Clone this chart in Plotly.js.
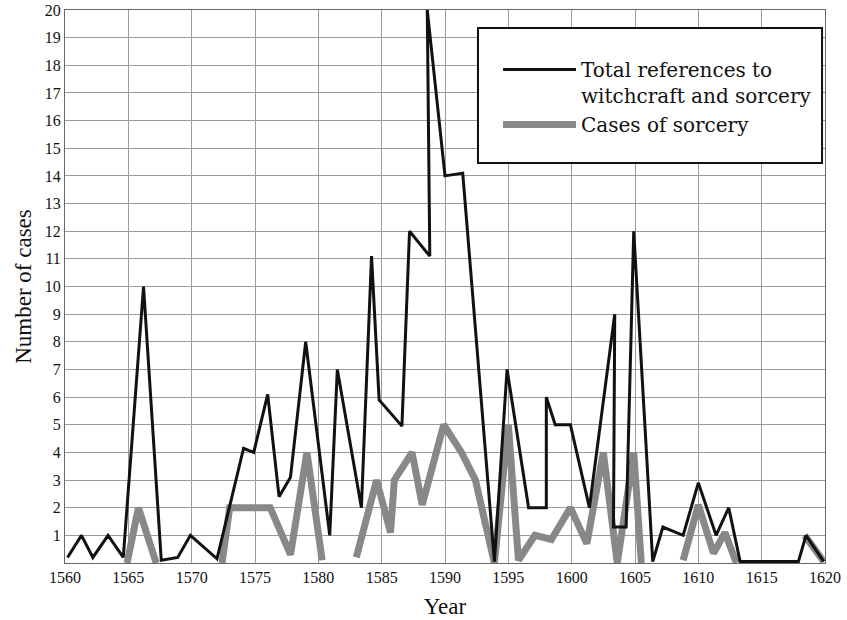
<!DOCTYPE html>
<html>
<head>
<meta charset="utf-8">
<script src="https://cdn.plot.ly/plotly-3.0.1.min.js"></script>
<style>
html,body{margin:0;padding:0;background:#fff;}
#chart{width:847px;height:620px;}
</style>
</head>
<body>
<div id="chart"></div>
<script>
// Total references to witchcraft and sorcery (black line)
const totalYears = [1560.2,1561.3,1562.2,1563.4,1564.6,1566.2,1567.6,1568.9,1569.9,1572.0,1574.1,1574.9,1576.0,1576.9,1577.8,1579.0,1580.9,1581.5,1583.4,1584.2,1584.8,1586.6,1587.2,1588.8,1588.6,1590.0,1591.4,1593.9,1594.9,1596.6,1598.0,1598.0,1598.7,1599.9,1601.4,1603.4,1603.3,1604.3,1604.9,1606.4,1607.2,1608.8,1610.0,1611.4,1612.4,1613.3,1617.9,1618.5,1619.9];
const totalCases = [0.2,1,0.2,1,0.2,10,0.1,0.2,1,0.15,4.15,4,6.1,2.4,3.1,8,1,7,2,11.1,5.9,4.95,12,11.1,20,14,14.1,0.05,7,2,2,6,5,5,2,9,1.3,1.3,12,0.05,1.3,1,2.9,1,2,0.05,0.05,1,0.05];

// Cases of sorcery (grey line); null marks a gap in the line
const sorceryYears = [1564.9,1565.8,1567.2,1570,1572.4,1573.0,1576.2,1577.8,1579.1,1580.3,1582,1583.0,1584.6,1585.7,1586.0,1587.4,1588.2,1589.9,1591.3,1592.4,1593.9,1595.0,1595.8,1597.1,1598.4,1599.9,1601.2,1602.5,1603.6,1604.9,1605.5,1607,1608.8,1610.0,1611.2,1612.1,1613.0,1616,1618.4,1619.9];
const sorceryCases = [0,2,0,null,0,2,2,0.3,4,0.1,null,0.2,3,1.1,3,4,2.1,5,4,3,0,5,0.1,1,0.85,2,0.7,4,0,4,0,null,0.1,2.1,0.35,1.1,0,null,1,0.05];

const xTickVals = [1560,1565,1570,1575,1580,1585,1590,1595,1600,1605,1610,1615,1620];
const yTickVals = [1,2,3,4,5,6,7,8,9,10,11,12,13,14,15,16,17,18,19,20];

const traces = [
  {x: sorceryYears, y: sorceryCases, mode: 'lines', name: 'Cases of sorcery',
   line: {color: '#888888', width: 7}, connectgaps: false, hoverinfo: 'skip'},
  {x: totalYears, y: totalCases, mode: 'lines', name: 'Total references to<br>witchcraft and sorcery',
   line: {color: '#111111', width: 3}, hoverinfo: 'skip'}
];

const layout = {
  width: 847, height: 620,
  margin: {l: 65, r: 22, t: 10, b: 57},
  paper_bgcolor: '#ffffff', plot_bgcolor: '#ffffff',
  font: {family: 'Liberation Serif, serif', color: '#111', size: 16},
  showlegend: true,
  legend: {
    x: 0.5697, xanchor: 'left', y: 0.9277, yanchor: 'top',
    bgcolor: 'rgba(0,0,0,0)', borderwidth: 0,
    traceorder: 'reversed', itemwidth: 73, valign: 'top',
    font: {family: 'DejaVu Serif, serif', size: 20, color: '#111'}
  },
  shapes: [
    {type: 'rect', xref: 'paper', yref: 'paper',
     x0: 0.5434, x1: 0.9961, y0: 0.7233, y1: 0.9675,
     fillcolor: '#ffffff', line: {color: '#111', width: 2}, layer: 'above'}
  ],
  xaxis: {
    range: [1560, 1620], tickvals: xTickVals, ticktext: xTickVals.map(String),
    showgrid: true, gridcolor: '#9a9a9a', gridwidth: 1,
    zeroline: false, showline: true, linecolor: '#666', linewidth: 1, mirror: true,
    ticks: '', tickfont: {size: 16},
    title: {text: 'Year', font: {size: 23}, standoff: 12}
  },
  yaxis: {
    range: [0, 20], tickvals: yTickVals, ticktext: yTickVals.map(String),
    showgrid: true, gridcolor: '#9a9a9a', gridwidth: 1,
    zeroline: false, showline: true, linecolor: '#666', linewidth: 1, mirror: true,
    ticks: '', tickfont: {size: 16},
    title: {text: 'Number of cases', font: {size: 23}, standoff: 6}
  }
};

Plotly.newPlot('chart', traces, layout, {staticPlot: true, displayModeBar: false});
</script>
</body>
</html>
